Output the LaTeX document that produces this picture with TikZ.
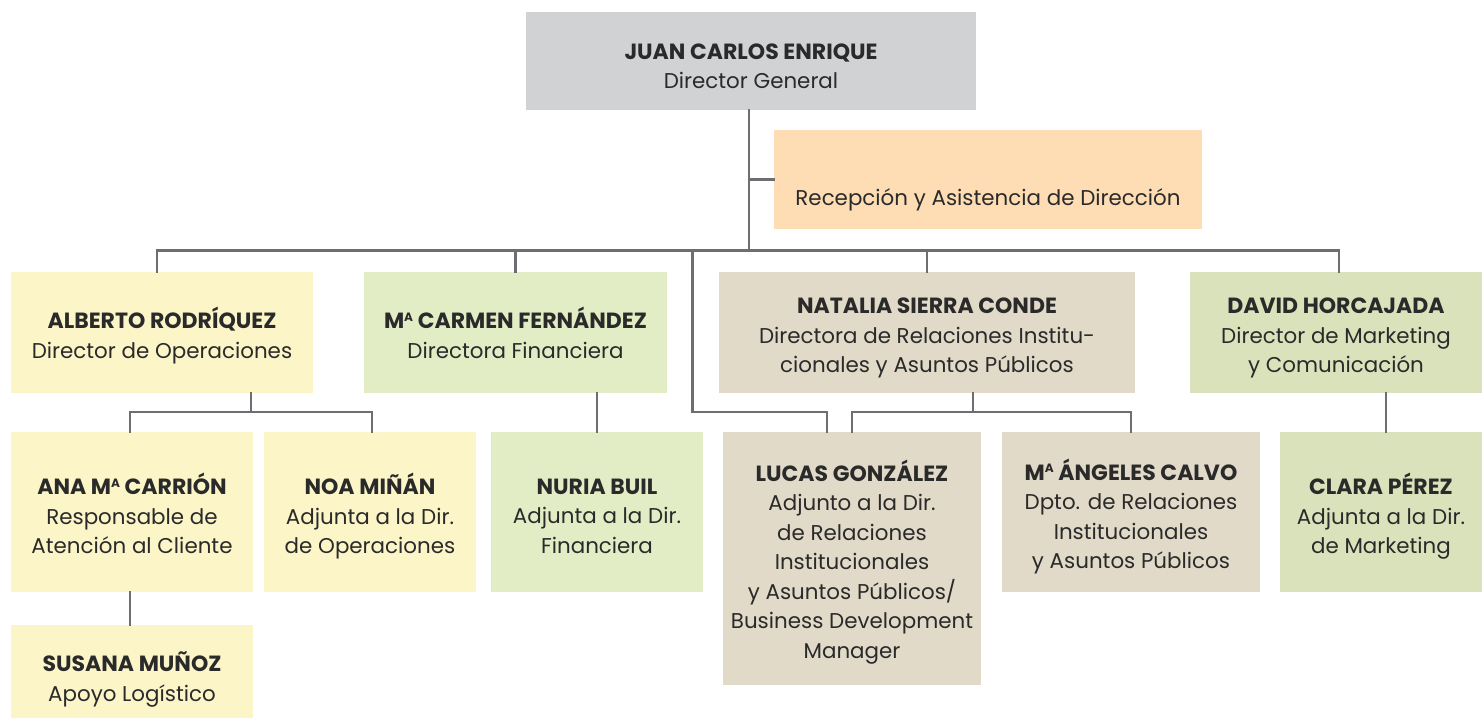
\documentclass[tikz,border=0pt]{standalone}
\usepackage{fontspec}
\usepackage{graphicx}
\setmainfont{Poppins}
\definecolor{cgray}{HTML}{D1D2D4}
\definecolor{cpeach}{HTML}{FEDDB5}
\definecolor{cyellow}{HTML}{FBF5C8}
\definecolor{clgreen}{HTML}{E3EDC5}
\definecolor{cbeige}{HTML}{E1DAC8}
\definecolor{cgreen}{HTML}{DAE2BB}
\definecolor{cline}{HTML}{6E6E72}
\definecolor{ctext}{HTML}{2A2A2A}
\newcommand{\MA}{M\raisebox{0.33em}{\scalebox{0.55}{A}}}
\newcommand{\T}[2][5.5pt]{\raisebox{-#1}[\height][\depth]{\begin{tabular}{@{}c@{}}#2\end{tabular}}}
\newcommand{\N}[1]{{\fontsize{22}{29.5}\selectfont\bfseries #1}}
\begin{document}
\begin{tikzpicture}[x=1pt,y=-1pt,
  box/.style={inner sep=0pt, outer sep=0pt, align=center, text=ctext,
    font=\fontsize{21.4}{29.5}\selectfont},
  conn/.style={draw=cline, line width=2.5pt, line join=miter, line cap=rect}]
\useasboundingbox (0,0) rectangle (1482,718);
% boxes
\node[box, fill=cgray, minimum width=450pt, minimum height=98pt] (juan) at (751,61) {\T[7pt]{\N{JUAN CARLOS ENRIQUE}\\Director General}};
\node[box, fill=cpeach, minimum width=428pt, minimum height=99pt] (recep) at (988,179.5) {\T[20pt]{Recepción y Asistencia de Dirección}};
\node[box, fill=cyellow, minimum width=302pt, minimum height=121pt] (alberto) at (162,332.5) {\T[4.5pt]{\N{ALBERTO RODRÍQUEZ}\\Director de Operaciones}};
\node[box, fill=clgreen, minimum width=303pt, minimum height=121pt] (carmen) at (515.5,332.5) {\T[4.5pt]{\N{\MA\ CARMEN FERNÁNDEZ}\\Directora Financiera}};
\node[box, fill=cbeige, minimum width=416pt, minimum height=121pt] (natalia) at (927,332.5) {\T[5pt]{\N{NATALIA SIERRA CONDE}\\Directora de Relaciones Institu-\\cionales y Asuntos Públicos}};
\node[box, fill=cgreen, minimum width=292pt, minimum height=121pt] (david) at (1336,332.5) {\T[5pt]{\N{DAVID HORCAJADA}\\Director de Marketing\\y Comunicación}};
\node[box, fill=cyellow, minimum width=242pt, minimum height=160pt] (ana) at (132,512) {\T[6pt]{\N{ANA \MA\ CARRIÓN}\\Responsable de\\Atención al Cliente}};
\node[box, fill=cyellow, minimum width=212pt, minimum height=160pt] (noa) at (370,512) {\T[6pt]{\N{NOA MIÑÁN}\\Adjunta a la Dir.\\de Operaciones}};
\node[box, fill=cyellow, minimum width=242pt, minimum height=93pt] (susana) at (132,671.5) {\T[9pt]{\N{SUSANA MUÑOZ}\\Apoyo Logístico}};
\node[box, fill=clgreen, minimum width=212pt, minimum height=160pt] (nuria) at (597,512) {\T[6pt]{\N{NURIA BUIL}\\Adjunta a la Dir.\\Financiera}};
\node[box, fill=cbeige, minimum width=258pt, minimum height=253pt] (lucas) at (852,558.5) {\T[5pt]{\N{LUCAS GONZÁLEZ}\\Adjunto a la Dir.\\de Relaciones\\Institucionales\\y Asuntos Públicos/\\Business Development\\Manager}};
\node[box, fill=cbeige, minimum width=258pt, minimum height=160pt] (angeles) at (1131,512) {\T[6pt]{\N{\MA\ ÁNGELES CALVO}\\Dpto. de Relaciones\\Institucionales\\y Asuntos Públicos}};
\node[box, fill=cgreen, minimum width=202pt, minimum height=160pt] (clara) at (1381,512) {\T[6pt]{\N{CLARA PÉREZ}\\Adjunta a la Dir.\\de Marketing}};
% coordinates
\coordinate (bus) at (749,250.5);
\coordinate (b1) at (157,250.5);
\coordinate (b4) at (1339,250.5);
\coordinate (l1) at (692.5,250.5);
\coordinate (a0) at (251,412);
\coordinate (a1) at (130,412);
\coordinate (a2) at (372,412);
\coordinate (n0) at (973,412);
\coordinate (d0) at (1386,412);
% connectors
\draw[conn] (juan.south -| bus) -- (bus);
\draw[conn] (recep.west -| bus) -- (recep.west);
\draw[conn] (b1 |- alberto.north) -- (b1) -- (b4) -- (b4 |- david.north);
\draw[conn] (carmen.north) -- (carmen.north |- bus);
\draw[conn] (natalia.north) -- (natalia.north |- bus);
\draw[conn] (l1) -- ++(0,161.5) -| ([xshift=-25pt]lucas.north);
\draw[conn] (alberto.south -| a0) -- (a0);
\draw[conn] (a1 |- ana.north) -- (a1) -- (a2) -- (a2 |- noa.north);
\draw[conn] (a1 |- ana.south) -- (a1 |- susana.north);
\draw[conn] (nuria.north) -- (nuria.north |- carmen.south);
\draw[conn] (natalia.south -| n0) -- (n0);
\draw[conn] (lucas.north) |- (angeles.north |- n0) -- (angeles.north);
\draw[conn] (d0 |- david.south) -- (d0 |- clara.north);
\end{tikzpicture}
\end{document}
